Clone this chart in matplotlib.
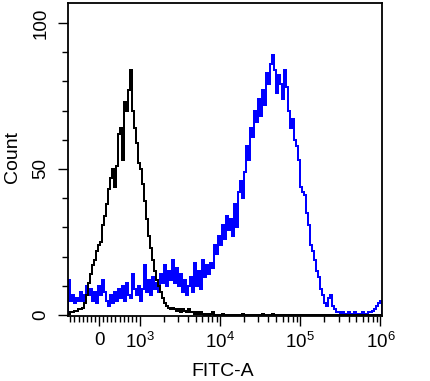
import numpy as np
import matplotlib
matplotlib.use("Agg")
import matplotlib.pyplot as plt

plt.rcParams['font.family'] = ['Liberation Sans', 'DejaVu Sans']
plt.rcParams['mathtext.fontset'] = 'custom'
plt.rcParams['mathtext.rm'] = 'Liberation Sans'
plt.rcParams['mathtext.it'] = 'Liberation Sans:italic'

# ---- data (counts per channel) ----
x_ticks = [0, 1e3, 1e4, 1e5, 1e6]
x_tick_labels = ['0', r'$\mathregular{10^3}$', r'$\mathregular{10^4}$',
                 r'$\mathregular{10^5}$', r'$\mathregular{10^6}$']
y_ticks = [0, 50, 100]
y_tick_labels = ['0', '50', '100']

control_counts = [
    0.5, 1, 1, 1.5, 1.5, 2, 2, 2.5, 4, 7, 11, 14, 17, 19, 22, 24, 25, 31, 34, 38,
    43, 47, 50, 44, 51, 62, 64, 53, 73, 70, 77, 84, 70, 64, 59, 52, 50, 45, 39, 33,
    27, 23, 19, 15, 12, 10, 8, 6, 4, 3, 2.5, 2, 2.5, 2, 1.5, 2, 1, 2, 1.5, 1,
    2, 1, 1, 0.5, 1, 0.5, 1, 0.5, 0, 0.5, 0, 0.5, 1, 0, 0, 0, 0, 0.5, 0, 0,
    0, 0, 0, 0, 0, 0, 0, 0.5, 0, 0, 0, 0, 0, 0, 0, 0, 0, 0.5, 0, 0,
    0, 0, 0.5, 0, 0, 0, 0, 0, 0, 0, 0, 0, 0, 0, 0, 0, 0, 0, 0, 0,
    0, 0, 0, 0, 0, 0, 0, 0, 0, 0, 0, 0, 0, 0, 0, 0, 0, 0, 0, 0,
    0, 0, 0, 0, 0, 0, 0, 0, 0, 0, 0, 0, 0, 0, 0, 0, 0]

stained_counts = [
    12, 5, 7, 4, 6, 5, 8, 5, 7, 10, 7, 9, 5, 8, 4, 10, 7, 12, 8, 5,
    3, 7, 4, 8, 5, 9, 6, 10, 5, 11, 7, 6, 14, 9, 7, 10, 5, 9, 17, 8,
    12, 7, 13, 9, 11, 8, 14, 11, 17, 10, 15, 12, 19, 11, 16, 10, 14, 8, 12, 7,
    10, 13, 8, 18, 10, 15, 9, 19, 13, 17, 14, 18, 16, 24, 21, 27, 24, 31, 26, 34,
    29, 33, 27, 38, 30, 42, 46, 40, 49, 58, 53, 64, 61, 70, 66, 74, 68, 77, 72, 83,
    79, 86, 89, 84, 76, 82, 79, 74, 84, 78, 70, 64, 67, 60, 58, 53, 44, 42, 41, 35,
    31, 24, 22, 19, 15, 13, 9, 7, 4, 3, 6, 7, 3, 2, 1, 1, 0.5, 1, 0.5, 0.5,
    1, 0.5, 0.5, 1, 0.5, 0.3, 0.5, 1, 0.5, 0.5, 1, 1, 1.5, 2, 3, 4, 5]

x_limits = (-756, 10 ** 6.02)
y_limits = (-0.3, 106.8)


# ---- biexponential-like display scale ----
def fwd(x):
    x = np.asarray(x, dtype=float)
    lg = np.log10(np.maximum(x, 1000.0))
    return np.where(x >= 1000, lg, 3 + (x - 1000) / 1000 * 0.5125)


def inv(u):
    u = np.asarray(u, dtype=float)
    p = 10 ** np.clip(u, -10, 12)
    return np.where(u >= 3, p, 1000 + (u - 3) / 0.5125 * 1000)


fig = plt.figure(figsize=(4.3, 3.81), dpi=100)
ax = fig.add_axes([68 / 430, 1 - 316 / 381, 314 / 430, 313 / 381])
ax.set_xscale('function', functions=(fwd, inv))

n = len(stained_counts)
u_lo, u_hi = fwd(x_limits[0]), fwd(x_limits[1])
edges = inv(np.linspace(u_lo, u_hi, n + 1))

ax.stairs(stained_counts, edges, color='#0000ff', lw=1.2, antialiased=False)
ax.stairs(control_counts[:n], edges, color='black', lw=1.2, antialiased=False)

ax.set_xlim(*x_limits)
ax.set_ylim(*y_limits)

ax.set_xticks(x_ticks, labels=x_tick_labels)
minor_x = [v for v in range(-700, 1000, 100) if v != 0]
for d in (1e3, 1e4, 1e5):
    minor_x += [m * d for m in range(2, 10)]
ax.set_xticks(minor_x, minor=True)

ax.set_yticks(y_ticks, labels=y_tick_labels)
ax.set_yticks(range(0, 101, 10), minor=True)
for lbl in ax.get_yticklabels():
    lbl.set_rotation(90)
    lbl.set_va('center')

ax.tick_params(which='major', length=7.5, width=1.0, labelsize=13.5, direction='out', colors='black')
ax.tick_params(which='minor', length=4.5, width=1.0, direction='out')
ax.tick_params(axis='x', which='major', pad=4)
ax.tick_params(axis='y', which='major', pad=6)

for s in ax.spines.values():
    s.set_linewidth(1.3)

fig.text(12 / 430, 1 - 157 / 381, 'Count', rotation=90, ha='center', va='center', fontsize=14)
fig.text(223 / 430, 1 - 371 / 381, 'FITC-A', ha='center', va='center', fontsize=14)

fig.savefig('out.png', dpi=100)
